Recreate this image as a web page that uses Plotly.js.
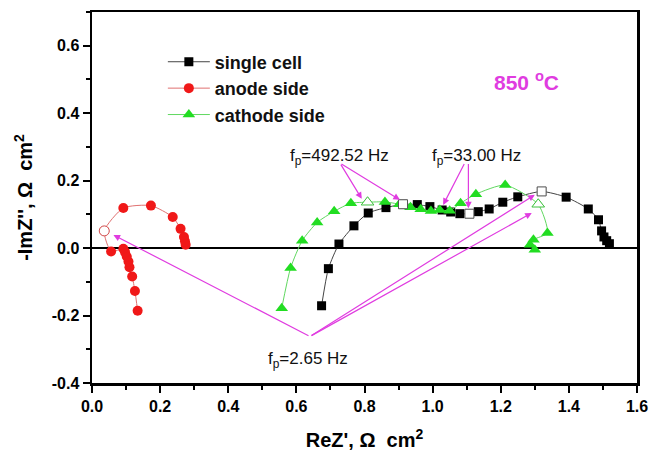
<!DOCTYPE html>
<html>
<head>
<meta charset="utf-8">
<script src="https://cdn.plot.ly/plotly-3.0.1.min.js"></script>
<style>html,body{margin:0;padding:0;background:#fff;}#chart{width:660px;height:457px;}</style>
</head>
<body>
<div id="chart"></div>
<script>
// ---- data ----
const cellX = [0.674,0.694,0.725,0.769,0.811,0.863,0.913,0.955,0.992,1.028,1.053,1.080,1.108,1.134,1.166,1.206,1.250,1.320,1.392,1.457,1.487,1.496,1.503,1.511,1.519];
const cellY = [-0.171,-0.061,0.012,0.066,0.104,0.120,0.130,0.129,0.123,0.113,0.107,0.102,0.102,0.108,0.116,0.136,0.152,0.168,0.151,0.116,0.084,0.051,0.033,0.022,0.013];
const cellOpenX = [0.913,1.108,1.320];
const cellOpenY = [0.130,0.102,0.168];

const anodeX = [0.134,0.126,0.118,0.110,0.107,0.102,0.097,0.092,0.056,0.036,0.092,0.173,0.237,0.260,0.270,0.273,0.275];
const anodeY = [-0.186,-0.127,-0.084,-0.057,-0.040,-0.025,-0.012,-0.002,-0.010,0.051,0.119,0.126,0.092,0.057,0.033,0.020,0.010];
const anodeOpenX = [0.036];
const anodeOpenY = [0.051];

const cathodeX = [0.557,0.583,0.617,0.661,0.711,0.760,0.809,0.860,0.902,0.935,0.965,0.995,1.021,1.050,1.082,1.127,1.213,1.310,1.337,1.296,1.286,1.300];
const cathodeY = [-0.178,-0.059,0.022,0.076,0.109,0.133,0.136,0.137,0.130,0.121,0.115,0.110,0.113,0.111,0.133,0.160,0.187,0.130,0.045,0.025,0.010,-0.005];
const cathodeOpenX = [0.809,1.310];
const cathodeOpenY = [0.136,0.130];

const seriesNames = ['single cell','anode side','cathode side'];
const xTickVals = [0,0.2,0.4,0.6,0.8,1.0,1.2,1.4,1.6];
const xTickText = ['0.0','0.2','0.4','0.6','0.8','1.0','1.2','1.4','1.6'];
const yTickVals = [-0.4,-0.2,0,0.2,0.4,0.6];
const yTickText = ['-0.4','-0.2','0.0','0.2','0.4','0.6'];

const MAG = '#e03ce0';
const FONT = 'Arial, "Liberation Sans", sans-serif';

const traces = [
  {x: cellX, y: cellY, name: seriesNames[0], mode: 'lines+markers',
   line: {color: '#444', width: 1, shape: 'spline', smoothing: 0.6},
   marker: {symbol: 'square', size: 9, color: '#000'}},
  {x: anodeX, y: anodeY, name: seriesNames[1], mode: 'lines+markers',
   line: {color: '#e07070', width: 1, shape: 'spline', smoothing: 0.6},
   marker: {symbol: 'circle', size: 10, color: '#f01818'}},
  {x: cathodeX, y: cathodeY, name: seriesNames[2], mode: 'lines+markers',
   line: {color: '#60d860', width: 1, shape: 'spline', smoothing: 0.6},
   marker: {symbol: 'triangle-up', size: 11, color: '#22dd22'}},
  {x: cellOpenX, y: cellOpenY, mode: 'markers', showlegend: false, hoverinfo: 'skip',
   marker: {symbol: 'square', size: 9, color: '#fff', line: {color: '#555', width: 1}}},
  {x: anodeOpenX, y: anodeOpenY, mode: 'markers', showlegend: false, hoverinfo: 'skip',
   marker: {symbol: 'circle', size: 10, color: '#fff', line: {color: '#d05050', width: 1}}},
  {x: cathodeOpenX, y: cathodeOpenY, mode: 'markers', showlegend: false, hoverinfo: 'skip',
   marker: {symbol: 'triangle-up', size: 11, color: '#fff', line: {color: '#40c040', width: 1}}}
];

function arrow(tx, ty, hx, hy) {
  return {x: hx, y: hy, ax: tx, ay: ty, xref: 'x', yref: 'y', axref: 'x', ayref: 'y',
    text: '', showarrow: true, arrowhead: 2, arrowsize: 1.1, arrowwidth: 1.2,
    arrowcolor: MAG, standoff: 0, startstandoff: 0};
}
function label(txt, x, y) {
  return {x: x, y: y, xref: 'x', yref: 'y', text: txt, showarrow: false,
    font: {family: FONT, size: 17, color: '#111111'}, xanchor: 'center', yanchor: 'middle'};
}

const layout = {
  width: 660, height: 457,
  margin: {l: 92, r: 23, t: 12, b: 74},
  paper_bgcolor: '#fff', plot_bgcolor: '#fff',
  font: {family: FONT, color: '#000'},
  xaxis: {
    range: [0, 1.6], tickvals: xTickVals, ticktext: xTickText,
    ticks: 'outside', ticklen: 7, tickwidth: 2, tickcolor: '#000',
    minor: {dtick: 0.1, ticks: 'outside', ticklen: 4, tickwidth: 2, tickcolor: '#000'},
    showline: true, linewidth: 2.5, linecolor: '#000', mirror: true,
    showgrid: false, zeroline: false,
    tickfont: {family: FONT, size: 16, color: '#000', weight: 'bold'},
    title: {text: "ReZ', \u03A9  cm<sup>2</sup>", standoff: 20,
      font: {family: FONT, size: 20, color: '#000', weight: 'bold'}}
  },
  yaxis: {
    range: [-0.4, 0.7], tickvals: yTickVals, ticktext: yTickText,
    ticks: 'outside', ticklen: 7, tickwidth: 2, tickcolor: '#000',
    minor: {dtick: 0.1, ticks: 'outside', ticklen: 4, tickwidth: 2, tickcolor: '#000'},
    showline: true, linewidth: 2.5, linecolor: '#000', mirror: true,
    showgrid: false, zeroline: true, zerolinecolor: '#000', zerolinewidth: 2.5,
    tickfont: {family: FONT, size: 16, color: '#000', weight: 'bold'},
    title: {text: "-ImZ'', \u03A9  cm<sup>2</sup>", standoff: 14,
      font: {family: FONT, size: 20, color: '#000', weight: 'bold'}}
  },
  showlegend: true,
  legend: {x: 0.13, y: 0.915, xanchor: 'left', yanchor: 'top', bgcolor: 'rgba(0,0,0,0)',
    itemwidth: 42, tracegroupgap: 0,
    font: {family: FONT, size: 18, color: '#111', weight: 'bold'}},
  annotations: [
    {x: 1.276, y: 0.494, xref: 'x', yref: 'y', text: '850 <sup>o</sup>C', showarrow: false,
     font: {family: FONT, size: 21, color: MAG, weight: 'bold'}},
    label('f<sub>p</sub>=492.52 Hz', 0.728, 0.270),
    label('f<sub>p</sub>=33.00 Hz', 1.129, 0.270),
    label('f<sub>p</sub>=2.65 Hz', 0.635, -0.333),
    arrow(0.728, 0.252, 0.792, 0.146),
    arrow(0.728, 0.252, 0.904, 0.143),
    arrow(1.095, 0.254, 1.031, 0.128),
    arrow(1.105, 0.254, 1.105, 0.118),
    arrow(0.640, -0.262, 0.063, 0.039),
    arrow(0.640, -0.262, 1.300, 0.158),
    arrow(0.640, -0.262, 1.291, 0.104)
  ]
};

Plotly.newPlot('chart', traces, layout, {staticPlot: true, displayModeBar: false});
</script>
</body>
</html>
